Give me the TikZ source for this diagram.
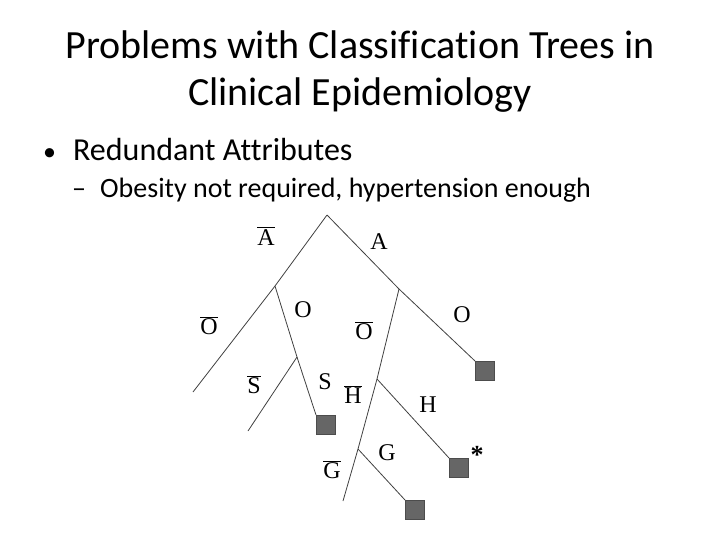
\documentclass[tikz,border=0pt]{standalone}
\usepackage{fontspec}
\setmainfont[Ligatures={NoCommon}]{Carlito}
\newfontfamily\treefont{Liberation Serif}
\newcommand{\ovl}[1]{\leavevmode\vbox{\hrule height 0.7pt\kern1.5pt\hbox{#1}}}
\newcommand{\labfont}{\fontsize{24}{24}\selectfont\treefont}
\begin{document}
\begin{tikzpicture}[x=1pt,y=-1pt,
  edge/.style={draw=black!75,line width=0.8pt},
  leaf/.style={draw=black!70,fill=black!60,minimum size=19pt,inner sep=0pt,anchor=north west},
  lab/.style={font=\labfont,inner sep=0pt},
  ttl/.style={font=\fontsize{40}{40}\selectfont,inner sep=0pt,anchor=base}]
\useasboundingbox (0,0) rectangle (720,540);
% title
\node[ttl] (t1) at (360,59) {Problems with Classification Trees in};
\node[ttl] (t2) at (360,106) {Clinical Epidemiology};
\node[font=\fontsize{32}{32}\selectfont,inner sep=0pt,anchor=base west] (b1) at (43,161) {{\fontsize{26}{26}\selectfont•}\hspace{17pt}Redundant Attributes};
\node[font=\fontsize{28}{28}\selectfont,inner sep=0pt,anchor=base west] (b2) at (72,198) {–\hspace{14pt}Obesity not required, hypertension enough};
% tree points
\coordinate (root) at (327,215);
\coordinate (n1) at (275,286);
\coordinate (nS) at (297,357);
\coordinate (lend) at (193,392);
\coordinate (sbar) at (248,431);
\coordinate (n2) at (399,289);
\coordinate (nH) at (377,379);
\coordinate (nG) at (358,449);
\coordinate (gbar) at (343,501);
% leaves
\node[leaf] (qS) at (316,415) {};
\node[leaf] (qA) at (475,361) {};
\node[leaf] (qH) at (449,458) {};
\node[leaf] (qG) at (405,500) {};
% edges
\draw[edge] (root) -- (n1) -- (lend);
\draw[edge] (root) -- (n2) -- (qA.north west);
\draw[edge] (n1) -- (nS) -- (qS.north west);
\draw[edge] (nS) -- (sbar);
\draw[edge] (n2) -- (nH) -- (nG) -- (gbar);
\draw[edge] (nH) -- (qH.north west);
\draw[edge] (nG) -- (qG.north west);
% labels
\node[lab] (lAb) at (266,236) {\ovl{A}};
\node[lab] (lA) at (379,242) {A};
\node[lab] (lOb1) at (209,326) {\ovl{O}};
\node[lab] (lO1) at (303,310) {O};
\node[lab] (lOb2) at (364,331) {\ovl{O}};
\node[lab] (lO2) at (462,315) {O};
\node[lab] (lSb) at (254,385) {\ovl{S}};
\node[lab] (lS) at (325,382) {S};
\node[lab] (lHb) at (353,395) {\ovl{H}};
\node[lab] (lH) at (428,405) {H};
\node[lab] (lG) at (387,453) {G};
\node[lab] (lGb) at (332,470) {\ovl{G}};
\node[lab,font=\fontsize{26}{26}\selectfont\treefont\bfseries] (ast) at (477,455) {*};
\end{tikzpicture}
\end{document}
